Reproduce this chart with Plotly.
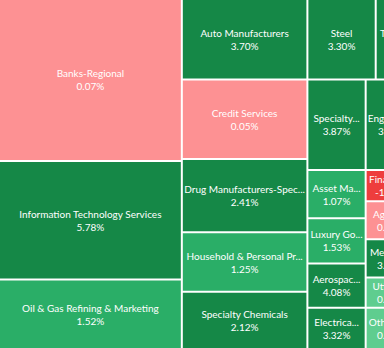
import plotly.graph_objects as go

# ---- data (tile size = relative weight read from tile areas; pct = daily change) ----
industries = [
    "Banks-Regional", "Information Technology Services", "Oil & Gas Refining & Marketing",
    "Auto Manufacturers", "Credit Services", "Drug Manufacturers-Spec...",
    "Household & Personal Pr...", "Specialty Chemicals",
    "Steel", "Telecom Se...",
    "Specialty...", "Engineeri...", "Gold",
    "Asset Ma...", "Luxury Go...", "Aerospac...", "Electrica...",
    "Financia...", "Agricu...", "Medical...", "Utilitie...", "Other In...",
    "Copper", "Lumber",
]
pct_change = [
    0.07, 5.78, 1.52,
    3.70, 0.05, 2.41, 1.25, 2.12,
    3.30, 3.12,
    3.87, 3.41, 1.10,
    1.07, 1.53, 4.08, 3.32,
    -1.35, 0.10, 3.05, 0.64, 0.58,
    2.20, 0.90,
]
tile_size = [
    29302, 21476, 12558,
    10000, 9875, 9125, 7375, 7125,
    5440, 5200,
    5220, 4680, 2070,
    2784, 2610, 2552, 2378,
    1550, 1900, 1900, 1500, 2050,
    2500, 1950,
]
tile_group = [
    "c1", "c1", "c1",
    "c2", "c2", "c2", "c2", "c2",
    "c3a", "c3a",
    "c3b", "c3b", "c3b",
    "c3cx", "c3cx", "c3cx", "c3cx",
    "c3cy", "c3cy", "c3cy", "c3cy", "c3cy",
    "c3cz", "c3cz",
]
groups = ["root", "c1", "c2", "c3", "c3a", "c3b", "c3c", "c3cx", "c3cy", "c3cz"]
group_parent = ["", "root", "root", "root", "c3", "c3", "c3", "c3c", "c3c", "c3c"]


def colour(v):
    if v < 0:
        return "#ee3d3d"
    if v < 0.2:
        return "#fd9193"
    if v < 1.0:
        return "#5fcd8f"
    if v < 2.0:
        return "#2aae67"
    return "#158847"


ids = groups + [f"leaf{i}" for i in range(len(industries))]
labels = [""] * len(groups) + industries
parents = group_parent + tile_group
values = [0] * len(groups) + tile_size
colors = ["white"] * len(groups) + [colour(v) for v in pct_change]
text = [""] * len(groups) + [f"{n}<br>{v:.2f}%" for n, v in zip(industries, pct_change)]

fig = go.Figure(go.Treemap(
    ids=ids, labels=labels, parents=parents, values=values,
    branchvalues="remainder", sort=False,
    text=text, texttemplate="%{text}", textposition="middle center",
    textfont=dict(family="Lato", size=10, color="white"),
    marker=dict(colors=colors, line=dict(width=0, color="white"),
                pad=dict(t=0, l=0, r=0, b=0)),
    tiling=dict(packing="slice-dice", pad=2),
    pathbar=dict(visible=False),
    hoverinfo="skip",
))
fig.update_layout(
    width=440, height=348,
    margin=dict(l=0, r=0, t=0, b=0),
    paper_bgcolor="white",
    hovermode=False,
    uniformtext=dict(minsize=10, mode="show"),
)
fig.write_html(
    "out.html",
    config={"staticPlot": True},
    post_script="document.documentElement.style.overflow='hidden';document.body.style.overflow='hidden';",
)
